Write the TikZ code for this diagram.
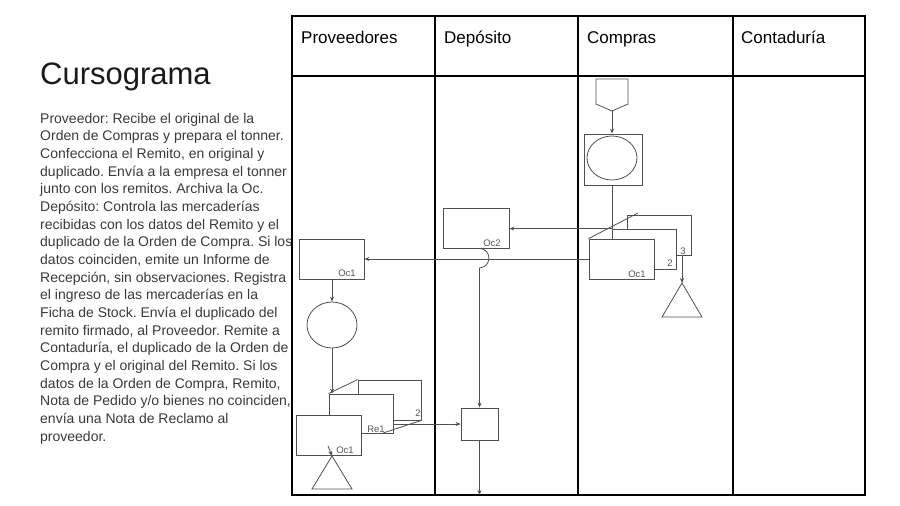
\documentclass[tikz,border=0pt]{standalone}
\usepackage{fontspec}
\setmainfont{Liberation Sans}
\usetikzlibrary{arrows.meta,shapes.geometric}
\definecolor{linegray}{HTML}{505050}
\definecolor{labelgray}{HTML}{555555}
\definecolor{bodyc}{HTML}{3a3a3a}
\definecolor{titlec}{HTML}{1a1a1a}
\begin{document}
\frenchspacing
\begin{tikzpicture}[x=1pt,y=-1pt,
  ln/.style={draw=linegray, line width=0.8pt},
  box/.style={draw=linegray, line width=0.8pt, fill=white, rectangle, inner sep=0pt},
  ell/.style={draw=linegray, line width=0.8pt, ellipse, inner sep=0pt},
  lbl/.style={text=labelgray, font=\fontsize{9.5}{11}\selectfont, inner sep=0pt},
  arr/.style={ln, -{Stealth[length=5pt,width=4pt]}},
  frame/.style={draw=black, line width=1.1pt},
  head/.style={anchor=base west, inner sep=0pt, font=\fontsize{17}{20}\selectfont, text=black},
]
\useasboundingbox[fill=white] (0,0) rectangle (900,506);

% title and description
\node[anchor=base west, inner sep=0pt, font=\fontsize{31}{36}\selectfont, text=titlec] (title) at (40,84) {Cursograma};
\node[anchor=north west, inner sep=0pt, align=left, font=\fontsize{14}{17.67}\selectfont, text=bodyc] (body) at (40,112.9) {%
Proveedor: Recibe el original de la\\
Orden de Compras y prepara el tonner.\\
Confecciona el Remito, en original y\\
duplicado. Envía a la empresa el tonner\\
junto con los remitos. Archiva la Oc.\\
Depósito: Controla las mercaderías\\
recibidas con los datos del Remito y el\\
duplicado de la Orden de Compra. Si los\\
datos coinciden, emite un Informe de\\
Recepción, sin observaciones. Registra\\
el ingreso de las mercaderías en la\\
Ficha de Stock. Envía el duplicado del\\
remito firmado, al Proveedor. Remite a\\
Contaduría, el duplicado de la Orden de\\
Compra y el original del Remito. Si los\\
datos de la Orden de Compra, Remito,\\
Nota de Pedido y/o bienes no coinciden,\\
envía una Nota de Reclamo al\\
proveedor.};

% table
\draw[frame] (292,16) rectangle (865,495);
\draw[frame] (292,76) -- (865,76);
\draw[frame] (435,16) -- (435,495);
\draw[frame] (578,16) -- (578,495);
\draw[frame] (733,16) -- (733,495);
\node[head] (h1) at (301,43) {Proveedores};
\node[head] (h2) at (444,43) {Depósito};
\node[head] (h3) at (587,43) {Compras};
\node[head] (h4) at (741,43) {Contaduría};

% ---- Compras
\draw[ln] (596,79) -- (628,79) -- (628,104) -- (612,111) -- (596,104) -- cycle;
\coordinate (pentTip) at (612,111);
\node[box, minimum width=58pt, minimum height=51pt] (sq1) at (613,159.5) {};
\node[ell, minimum width=50pt, minimum height=44pt] (ell1) at (612,158) {};
\draw[arr] (pentTip) -- (pentTip |- sq1.north);

\node[box, minimum width=64pt, minimum height=40pt] (c3) at (659,235) {};
\node[box, minimum width=64pt, minimum height=40pt] (c2) at (644,249) {};
\node[box, minimum width=65pt, minimum height=40pt] (c1) at (621.5,259) {};
\coordinate (c1diag) at (638,213);
\draw[ln] (c1.north west) -- (c1diag);
\node[lbl] (c1lab) at (637,274) {Oc1};
\node[lbl] (c2lab) at (670,263) {2};
\node[lbl] (c3lab) at (683,251) {3};
\draw[ln] (sq1.south -| pentTip) -- (pentTip |- c2.north);

\coordinate (triCtop) at (682,283);
\coordinate (triCr) at (702,317);
\coordinate (triCl) at (662,317);
\draw[ln] (triCtop) -- (triCr) -- (triCl) -- cycle;
\draw[arr] (c3.south -| triCtop) -- (triCtop);

% ---- Depósito
\node[box, minimum width=66pt, minimum height=40pt] (oc2) at (476,228) {};
\node[lbl] (oc2lab) at (492,243) {Oc2};
\node[box, minimum width=37pt, minimum height=32pt] (sqD) at (479.5,424) {};
\coordinate (bottomEnd) at (479.5,495);

% ---- Proveedores
\node[box, minimum width=65pt, minimum height=40pt] (oc1P) at (331.5,259) {};
\node[lbl] (oc1Plab) at (347,273) {Oc1};
\node[ell, minimum width=50pt, minimum height=46pt] (circP) at (332,325) {};

\node[box, minimum width=63pt, minimum height=40pt] (pB) at (389.5,400) {};
\node[box, minimum width=64pt, minimum height=39pt] (pM) at (361,413.5) {};
\node[box, minimum width=65pt, minimum height=40pt] (pF) at (328.5,435) {};
\coordinate (pMfold) at (383,433);
\draw[ln] (pM.north west) -- (pB.north west);
\draw[ln] (pMfold) -- (pB.south east);
\node[lbl] (pBlab) at (418,413) {2};
\node[lbl] (pMlab) at (376,429) {Re1};
\node[lbl] (pFlab) at (345,450) {Oc1};

\coordinate (triPtop) at (332,456);
\coordinate (triPr) at (352,489);
\coordinate (triPl) at (312,489);
\coordinate (smallStart) at (328,446);
\draw[ln] (triPtop) -- (triPr) -- (triPl) -- cycle;

% ---- connectors
\draw[arr] (c2.north west) -- (c2.north west -| oc2.east);
\draw[arr] (c1.west) -- (oc1P.east);
\draw[arr] (sqD.north |- oc2.south) .. controls (492,249) and (492,267) .. (479.5,268) -- (sqD.north);
\draw[arr] (sqD.south) -- (bottomEnd);
\draw[arr] (oc1P.south -| circP.north) -- (circP.north);
\draw[arr] (circP.south) -- (circP.south |- pM.north);
\draw[arr] (sqD.west -| pM.east) -- (sqD.west);
\draw[arr] (smallStart) -- (triPtop);
\end{tikzpicture}
\end{document}
